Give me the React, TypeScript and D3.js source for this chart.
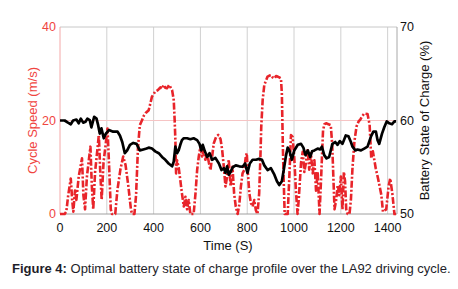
import React from "react";
import * as d3 from "d3";

const speedTime = [0,20,27,35,46,52,57,64,70,80,94,100,107,115,130,136,142,150,166,172,178,186,203,210,217,222,236,245,258,270,280,292,303,308,318,325,333,341,350,358,366,379,393,407,418,429,436,443,450,457,467,479,486,490,493,496,500,507,514,521,529,536,543,550,557,571,579,586,593,600,607,614,621,629,636,643,650,657,667,676,686,693,700,707,714,721,729,737,744,751,759,766,773,780,787,794,798,803,809,816,823,830,837,844,851,856,860,866,873,887,895,902,909,916,923,930,937,944,948,952,956,960,973,980,987,994,1001,1008,1015,1020,1030,1037,1044,1051,1058,1065,1072,1080,1087,1094,1101,1109,1116,1124,1130,1137,1147,1157,1163,1168,1173,1180,1187,1193,1200,1207,1213,1218,1223,1229,1237,1243,1250,1258,1267,1276,1283,1290,1300,1314,1323,1330,1337,1349,1359,1373,1380,1394,1404,1411,1420,1429,1436];
const speedValue = [0,0,0.5,4,7.6,3,0.5,5,3,8,11.9,4,1,8,14.4,6,1,9,16.9,9,3,11,18.3,10,1,0,0,5,9.5,12.3,10.5,6,1,0,0,4,14,19,20,21,21.6,22.2,25.1,26.2,26.5,27.1,26.8,27.6,27,26.9,27.6,26.5,24.4,20,15.8,8.7,11.5,10,7.3,4.4,1.6,3.7,1,3,0,0,4.4,9.4,12.3,14.4,12.3,13.7,11.6,13,11,9.4,12.3,15.1,16.5,16.9,16,13.7,10.1,5.9,8,11.6,5.9,10.1,4.4,1.6,0,2,5.9,8.7,9.4,12.3,13,8.7,4.4,2.3,1.6,3,0.8,0,4.4,11.6,18.7,24.4,27.6,29.4,29.6,29.7,29.2,29,29.5,29.4,29.2,29,25.8,15,7,0,0,8,16.9,16.5,12,5,0,3,11,13.3,9,11,14,9.5,13,8.7,11.5,5,9,0,8,17.9,19.2,19.4,19.2,19,15,8,1,3,6.2,4,8,1,9,7,1,0,0,3,10,15.5,18.7,19.8,20.2,20.8,21.5,21.4,19.1,11.9,13.4,9.8,7.6,4.1,0.5,1,5.9,7.6,4.4,0,0];

const socTime = [0,20,34,46,56,70,80,89,99,109,117,127,134,146,156,163,170,177,187,196,209,227,246,256,266,277,287,299,313,327,341,356,370,379,393,407,422,436,450,464,479,486,493,500,507,514,521,529,543,557,571,586,596,604,610,619,629,639,650,664,679,690,700,707,714,721,729,738,751,766,780,791,801,811,823,837,851,863,873,887,901,916,927,937,948,956,966,973,980,991,1001,1016,1030,1040,1049,1059,1069,1077,1087,1101,1111,1119,1129,1139,1150,1164,1176,1186,1196,1207,1221,1233,1243,1250,1262,1271,1286,1300,1314,1329,1339,1350,1357,1364,1376,1386,1396,1407,1419,1429,1436];
const socValue = [60.0,60.0,59.77,59.6,60.0,60.1,59.7,60.2,59.77,59.87,60.2,60.05,59.27,60.4,60.2,59.5,58.6,59.16,58.1,58.6,58.98,58.8,58.8,58.4,57.7,56.5,56.8,57.4,57.6,57.5,56.8,56.9,57.0,57.1,57.0,56.7,56.5,56.1,55.8,55.4,55.1,55.6,57.2,56.5,56.8,57.4,57.9,58.1,58.1,58.0,58.1,57.9,57.5,56.8,57.4,56.7,56.1,56.5,55.8,56.0,55.4,54.7,54.9,54.4,55.1,54.2,54.5,55.0,55.2,55.1,55.05,55.4,54.4,55.4,55.8,55.8,55.9,55.8,55.2,54.7,54.9,54.2,53.5,53.1,53.5,54.7,56.3,57.1,56.8,55.8,56.8,57.4,57.5,57.1,56.3,56.8,56.1,56.7,56.8,57.0,56.9,57.2,56.3,55.95,56.1,57.5,57.7,57.4,57.8,57.5,58.4,58.3,57.7,57.2,56.8,56.9,56.8,57.0,57.2,58.3,58.8,58.8,57.9,57.5,58.6,59.3,59.9,59.7,59.6,59.9,59.9];

const xTicks = [0, 200, 400, 600, 800, 1000, 1200, 1400];
const speedTicks = [0, 20, 40];
const socTicks = [50, 60, 70];

const RED = "#e8242a";
const RED_TEXT = "#f0453f";
const FONT = "'Liberation Sans', Arial, Helvetica, sans-serif";

export default function App() {
  const left = 60, right = 397, top = 27, bottom = 214;
  const x = d3.scaleLinear().domain([0, 1440]).range([left, right]);
  const yS = d3.scaleLinear().domain([0, 40]).range([bottom, top]);
  const yC = d3.scaleLinear().domain([50, 70]).range([bottom, top]);

  const speedLine = d3.line<number>().x((_, i) => x(speedTime[i])).y((d) => yS(d));
  const socLine = d3.line<number>().x((_, i) => x(socTime[i])).y((d) => yC(d));

  return (
    <svg width={458} height={289} style={{ position: "absolute", left: 0, top: 0, background: "#fff" }} fontFamily={FONT}>
      <rect x={0} y={0} width={458} height={289} fill="#fff" />
      {xTicks.slice(1).map((t) => (
        <line key={"g" + t} x1={x(t)} x2={x(t)} y1={top} y2={bottom} stroke="#d0d0d0" strokeWidth={1} />
      ))}
      <line x1={left} x2={right} y1={yS(20)} y2={yS(20)} stroke="#f6c4c4" strokeWidth={1} />
      <line x1={left} x2={right} y1={top} y2={top} stroke="#c8c8c8" strokeWidth={1} />
      <line x1={left} x2={right} y1={bottom} y2={bottom} stroke="#a0a0a0" strokeWidth={1} />
      <line x1={left} x2={left} y1={top} y2={bottom} stroke="#f4a8a8" strokeWidth={1} />
      <line x1={right} x2={right} y1={top} y2={bottom} stroke="#a8a8a8" strokeWidth={1} />
      <defs>
        <clipPath id="clip">
          <rect x={left - 2} y={top - 2} width={right - left + 6} height={bottom - top + 4} />
        </clipPath>
      </defs>
      <g clipPath="url(#clip)">
        <path d={speedLine(speedValue) || ""} fill="none" stroke={RED} strokeWidth={2.6} strokeDasharray="7,2,2,2" strokeLinejoin="round" />
        <path d={socLine(socValue) || ""} fill="none" stroke="#000" strokeWidth={2.7} strokeLinejoin="round" />
      </g>
      {speedTicks.map((t) => (
        <text key={"s" + t} x={left - 4} y={yS(t)} dy="0.35em" textAnchor="end" fontSize={12.5} fill={RED_TEXT}>{t}</text>
      ))}
      {socTicks.map((t) => (
        <text key={"c" + t} x={right + 3} y={yC(t)} dy="0.35em" textAnchor="start" fontSize={12.5} fill="#111">{t}</text>
      ))}
      {xTicks.map((t) => (
        <text key={"x" + t} x={x(t)} y={232} textAnchor="middle" fontSize={12.5} fill="#111">{t}</text>
      ))}
      <text x={228} y={250} textAnchor="middle" fontSize={13} fill="#111">Time (S)</text>
      <text transform={`translate(37,${(top + bottom) / 2}) rotate(-90)`} textAnchor="middle" fontSize={13} fill={RED_TEXT}>Cycle Speed (m/s)</text>
      <text transform={`translate(429,${(top + bottom) / 2}) rotate(-90)`} textAnchor="middle" fontSize={13} fill="#111">Battery State of Charge (%)</text>
      <text x={12} y={273} fontSize={13} fill="#1e1e2a">
        <tspan fontWeight="bold">Figure 4:</tspan> Optimal battery state of charge profile over the LA92 driving cycle.
      </text>
    </svg>
  );
}
